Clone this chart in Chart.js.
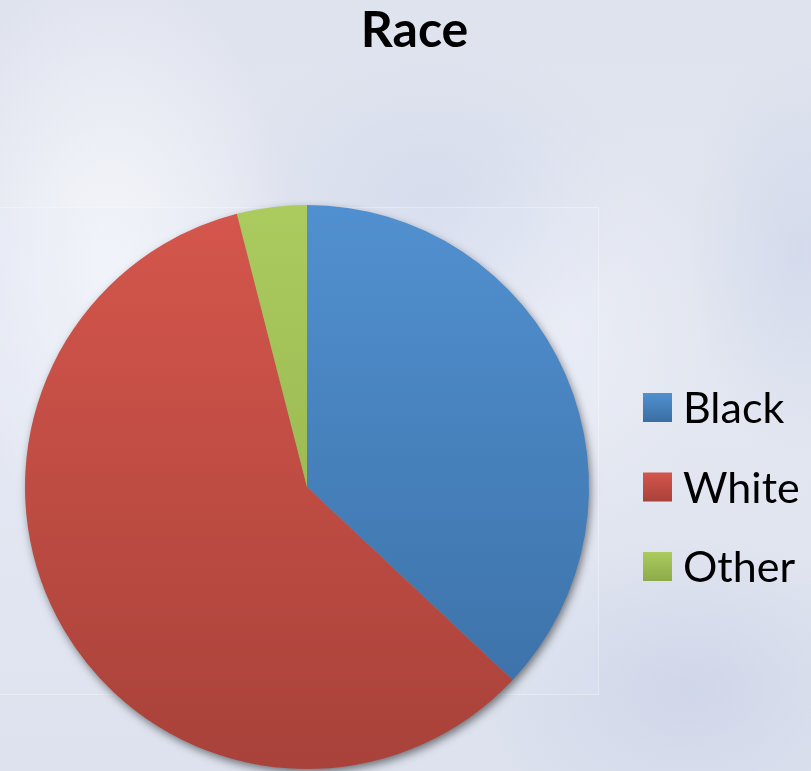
<!DOCTYPE html>
<html>
<head>
<meta charset="utf-8">
<script src="https://cdn.jsdelivr.net/npm/chart.js@4.4.1/dist/chart.umd.min.js"></script>
<style>
html, body { margin: 0; padding: 0; }
body {
    width: 811px;
    height: 771px;
    overflow: hidden;
    background:
        radial-gradient(ellipse 260px 420px at 110px 260px, rgba(246,247,251,0.95), rgba(246,247,251,0) 70%),
        radial-gradient(ellipse 300px 230px at 430px 200px, rgba(208,215,236,0.6), rgba(208,215,236,0) 70%),
        radial-gradient(ellipse 220px 300px at 560px 330px, rgba(236,239,246,0.8), rgba(236,239,246,0) 70%),
        radial-gradient(ellipse 320px 220px at 690px 690px, rgba(202,209,231,0.7), rgba(202,209,231,0) 70%),
        radial-gradient(ellipse 160px 300px at 800px 250px, rgba(206,214,234,0.7), rgba(206,214,234,0) 70%),
        linear-gradient(180deg, #dfe3ee 0%, #e3e7f1 50%, #dde2ee 100%);
}
#wrap { position: relative; width: 811px; height: 771px; }
#plotBox {
    position: absolute; left: 0; top: 207px; width: 598px; height: 486px;
    border: 1px solid rgba(255,255,255,0.3); border-left: none;
    background: rgba(228,233,250,0.2);
}
#pieChart { position: absolute; left: 0; top: 0; }
</style>
</head>
<body>
<div id="wrap">
    <div id="plotBox"></div>
    <canvas id="pieChart" width="811" height="771"></canvas>
</div>
<script>
// Datos del grafico
var chartTitle = 'Race';
var labels = ['Black', 'White', 'Other'];
var values = [37, 59, 4];

// Colores de cada porcion (arriba / abajo del degradado)
var topColors = ['#5190d0', '#d5564c', '#abcb5f'];
var bottomColors = ['#3a6ea3', '#a8423a', '#8dab48'];

function sliceGradient(ctx, top, bottom, i) {
    var g = ctx.createLinearGradient(0, top, 0, bottom);
    g.addColorStop(0, topColors[i]);
    g.addColorStop(1, bottomColors[i]);
    return g;
}

// Sombra bajo el pastel
var pieShadow = {
    id: 'pieShadow',
    beforeDatasetsDraw: function (chart) {
        var arc = chart.getDatasetMeta(0).data[0];
        if (!arc) return;
        var ctx = chart.ctx;
        ctx.save();
        ctx.shadowColor = 'rgba(0,0,0,0.55)';
        ctx.shadowBlur = 10;
        ctx.shadowOffsetX = 2;
        ctx.shadowOffsetY = 4;
        ctx.fillStyle = '#8a8a8a';
        ctx.beginPath();
        ctx.arc(arc.x, arc.y, arc.outerRadius - 1, 0, Math.PI * 2);
        ctx.fill();
        ctx.restore();
    }
};

// Titulo y leyenda al lado derecho
var sideLegend = {
    id: 'sideLegend',
    afterDraw: function (chart) {
        var ctx = chart.ctx;
        var area = chart.chartArea;
        var cy = (area.top + area.bottom) / 2;
        var x = area.right + 54;
        var box = 29;
        ctx.save();
        ctx.fillStyle = '#000';
        ctx.textAlign = 'center';
        ctx.textBaseline = 'middle';
        ctx.font = 'bold 50px Lato';
        ctx.fillText(chartTitle, chart.width / 2 + 9, 31);

        ctx.textAlign = 'left';
        ctx.font = '43px Lato';
        labels.forEach(function (name, i) {
            var y = cy + (i - 1) * 79.5;
            ctx.fillStyle = sliceGradient(ctx, y - box / 2, y + box / 2, i);
            ctx.fillRect(x, y - box / 2, box, box);
            ctx.fillStyle = '#000';
            ctx.fillText(name, x + box + 11, y + 2);
        });
        ctx.restore();
    }
};

var pieCanvas = document.getElementById('pieChart').getContext('2d');

new Chart(pieCanvas, {
    type: 'pie',
    data: {
        labels: labels,
        datasets: [{
            data: values,
            borderWidth: 0,
            backgroundColor: function (context) {
                var area = context.chart.chartArea;
                if (!area) return topColors[context.dataIndex];
                return sliceGradient(context.chart.ctx, area.top, area.bottom, context.dataIndex);
            }
        }]
    },
    options: {
        responsive: false,
        animation: false,
        layout: {
            padding: { left: 25, right: 222, top: 205, bottom: 2 }
        },
        plugins: {
            legend: { display: false },
            title: { display: false },
            tooltip: { enabled: false }
        }
    },
    plugins: [pieShadow, sideLegend]
});
</script>
</body>
</html>
